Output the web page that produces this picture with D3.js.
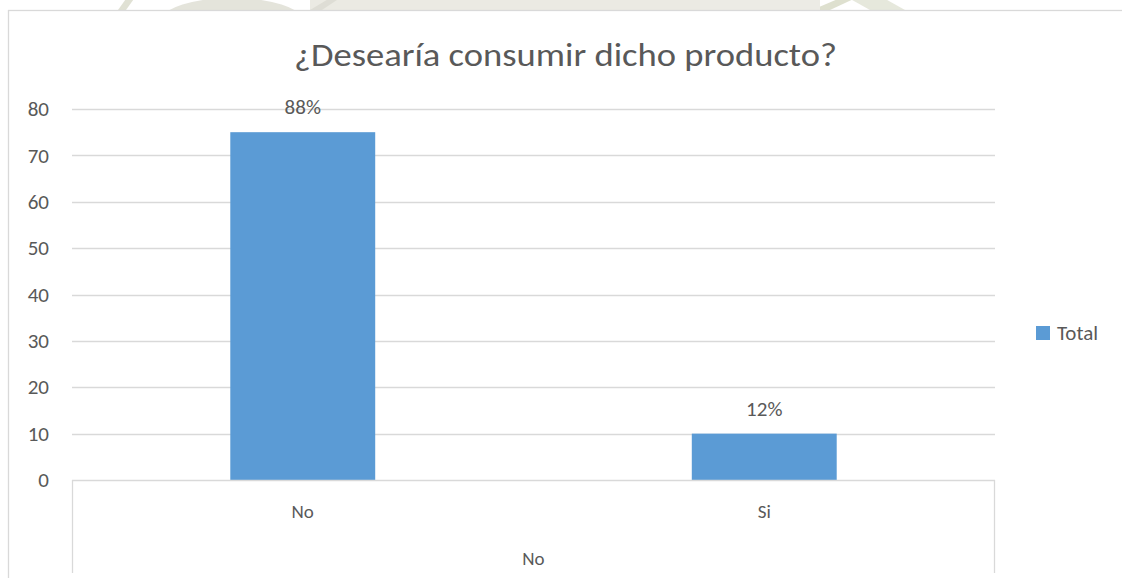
<!DOCTYPE html>
<html>
<head>
<meta charset="utf-8">
<script src="https://cdn.jsdelivr.net/npm/d3@7"></script>
<style>
  html, body { margin: 0; padding: 0; background: #ffffff; }
  svg { display: block; }
  text { font-family: Carlito, Calibri, Lato, "Open Sans", sans-serif; fill: #595959; }
</style>
</head>
<body>
<svg id="chart" width="1122" height="578"></svg>
<script>
// Survey answers (counts per answer)
const categories = ["No", "Si"];
const totals = [75, 10];
const groupLabel = "No";
const seriesName = "Total";
const yTicks = [0, 10, 20, 30, 40, 50, 60, 70, 80];
const chartTitle = "¿Desearía consumir dicho producto?";

const W = 1122, H = 578;
const plot = { left: 72, right: 995, top: 109, bottom: 480 };
const barColor = "#5b9bd5";
const lineColor = "#d9d9d9";

const svg = d3.select("#chart");

// faint letterhead artwork peeking above the chart frame
const deco = svg.append("g").attr("opacity", 0.55);
deco.append("clipPath").attr("id", "topStrip")
  .append("rect").attr("x", 0).attr("y", 0).attr("width", W).attr("height", 10);
const dg = deco.append("g").attr("clip-path", "url(#topStrip)");
dg.append("path").attr("d", "M118,10 L128,-4 L136,-4 L126,10 Z").attr("fill", "#c8cab2");
dg.append("ellipse").attr("cx", 232).attr("cy", 20).attr("rx", 70).attr("ry", 22).attr("fill", "#cfcebf");
dg.append("rect").attr("x", 310).attr("y", -2).attr("width", 420).attr("height", 12).attr("fill", "#dcdacd");
dg.append("path").attr("d", "M310,10 L330,-2 L340,-2 L322,10 Z").attr("fill", "#c4c3b3");
dg.append("path").attr("d", "M812,10 L845,-4 L860,-4 L830,10 Z").attr("fill", "#c4c8a8");
dg.append("path").attr("d", "M845,-4 L880,-4 L905,10 L870,10 Z").attr("fill", "#d3d6c0");
dg.append("rect").attr("x", 700).attr("y", -2).attr("width", 120).attr("height", 12).attr("fill", "#dedcd0");

// chart frame
svg.append("rect")
  .attr("x", 8.5).attr("y", 10.5)
  .attr("width", W + 20).attr("height", H + 20)
  .attr("fill", "#ffffff").attr("stroke", lineColor).attr("stroke-width", 1.3);

const x = d3.scaleBand().domain(categories).range([plot.left, plot.right]).padding(0);
const y = d3.scaleLinear().domain([0, 80]).range([plot.bottom, plot.top]);
const barW = x.bandwidth() * 0.314;

// gridlines
svg.append("g").selectAll("line")
  .data(yTicks.filter(t => t > 0))
  .join("line")
  .attr("x1", plot.left).attr("x2", plot.right)
  .attr("y1", d => Math.round(y(d)) + 0.5).attr("y2", d => Math.round(y(d)) + 0.5)
  .attr("stroke", lineColor).attr("stroke-width", 1.3);

// y axis labels
const yAxis = d3.axisLeft(y).tickValues(yTicks).tickSize(0).tickPadding(0);
const gy = svg.append("g").attr("transform", "translate(49,0)").call(yAxis);
gy.select(".domain").remove();
gy.selectAll("text")
  .attr("font-size", 21).attr("fill", "#595959")
  .style("font-family", "Carlito, Calibri, Lato, sans-serif");

// bars
svg.append("g").selectAll("rect")
  .data(categories.map((c, i) => ({ c, v: totals[i] })))
  .join("rect")
  .attr("x", d => x(d.c) + x.bandwidth() / 2 - barW / 2)
  .attr("y", d => y(d.v))
  .attr("width", barW)
  .attr("height", d => y(0) - y(d.v))
  .attr("fill", barColor);

// percentage labels derived from the counts
const sum = d3.sum(totals);
svg.append("g").selectAll("text")
  .data(categories.map((c, i) => ({ c, v: totals[i] })))
  .join("text")
  .attr("x", d => x(d.c) + x.bandwidth() / 2)
  .attr("y", d => y(d.v) - 18)
  .attr("text-anchor", "middle")
  .attr("font-size", 21)
  .text(d => Math.round(d.v / sum * 100) + "%");

// multi-level category axis frame
const frame = svg.append("g").attr("stroke", lineColor).attr("stroke-width", 1.3).attr("fill", "none");
frame.append("line").attr("x1", plot.left).attr("x2", plot.right)
  .attr("y1", plot.bottom + 0.5).attr("y2", plot.bottom + 0.5);
frame.append("line").attr("x1", plot.left + 0.5).attr("x2", plot.left + 0.5)
  .attr("y1", plot.bottom).attr("y2", 573);
frame.append("line").attr("x1", plot.right - 0.5).attr("x2", plot.right - 0.5)
  .attr("y1", plot.bottom).attr("y2", 573);

// inner category labels
const xAxis = d3.axisBottom(x).tickSize(0).tickPadding(0);
const gx = svg.append("g").attr("transform", `translate(0,${plot.bottom + 24})`).call(xAxis);
gx.select(".domain").remove();
gx.selectAll("text")
  .attr("font-size", 19).attr("fill", "#595959")
  .style("font-family", "Carlito, Calibri, Lato, sans-serif");

// outer group label
svg.append("text")
  .attr("x", (plot.left + plot.right) / 2)
  .attr("y", 565)
  .attr("text-anchor", "middle")
  .attr("font-size", 19)
  .text(groupLabel);

// title
svg.append("text")
  .attr("x", 294).attr("y", 66)
  .attr("font-size", 33)
  .attr("textLength", 543).attr("lengthAdjust", "spacingAndGlyphs")
  .text(chartTitle);

// legend
const lg = svg.append("g").attr("transform", "translate(1036,326)");
lg.append("rect").attr("width", 14).attr("height", 14).attr("fill", barColor);
lg.append("text").attr("x", 21).attr("y", 13.5).attr("font-size", 21).text(seriesName);
</script>
</body>
</html>
